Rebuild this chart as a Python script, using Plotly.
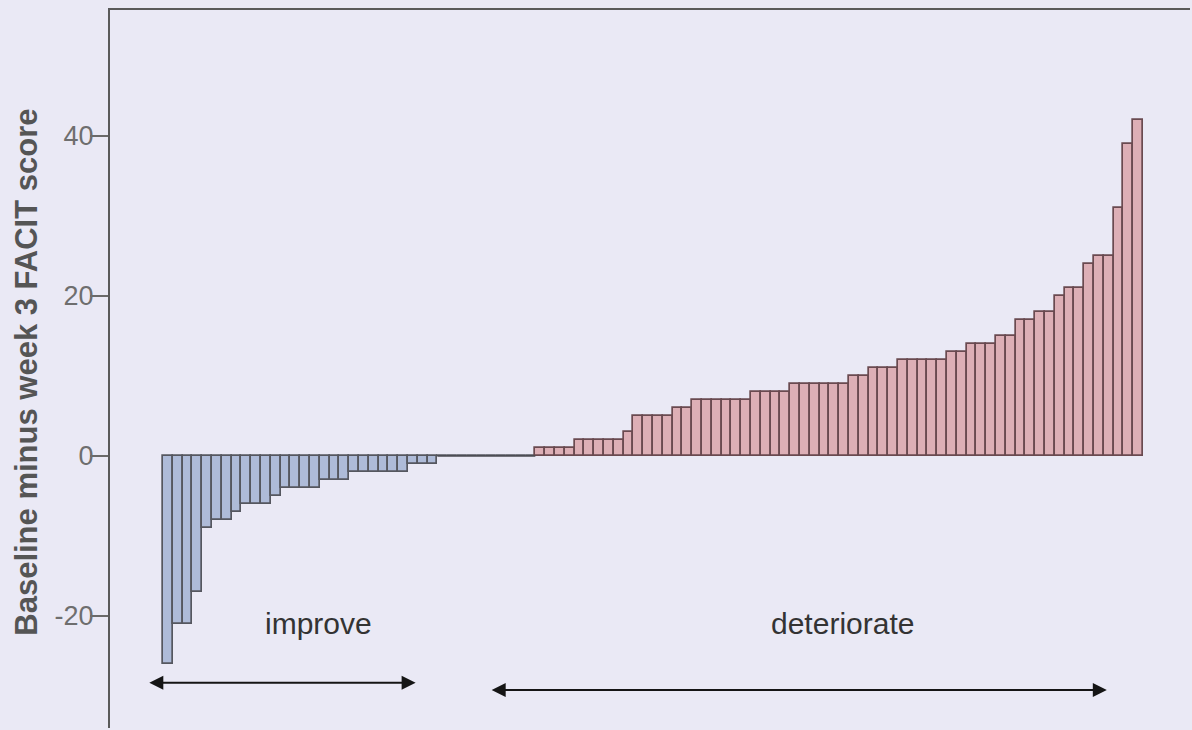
import plotly.graph_objects as go

# Baseline minus week 3 FACIT score, one bar per patient, sorted
improve_vals = [-26, -21, -21, -17, -9, -8, -8, -7, -6, -6, -6, -5, -4, -4, -4, -4,
                -3, -3, -3, -2, -2, -2, -2, -2, -2, -1, -1, -1]
no_change_vals = [0, 0, 0, 0, 0, 0, 0, 0, 0, 0]
deteriorate_vals = [1, 1, 1, 1, 2, 2, 2, 2, 2, 3, 5, 5, 5, 5, 6, 6, 7, 7, 7, 7, 7, 7,
                    8, 8, 8, 8, 9, 9, 9, 9, 9, 9, 10, 10, 11, 11, 11, 12, 12, 12, 12, 12,
                    13, 13, 14, 14, 14, 15, 15, 17, 17, 18, 18, 20, 21, 21, 24, 25, 25,
                    31, 39, 42]
y_ticks = [-20, 0, 20, 40]

n_imp = len(improve_vals)
n_zero = len(no_change_vals)
imp_x = list(range(1, n_imp + 1))
zero_x = list(range(n_imp + 1, n_imp + n_zero + 1))
det_x = list(range(n_imp + n_zero + 1, n_imp + n_zero + len(deteriorate_vals) + 1))

BG = "#EAE9F5"
FONT = "Arial, Liberation Sans, sans-serif"

fig = go.Figure()
fig.add_trace(
    go.Bar(
        x=imp_x,
        y=improve_vals,
        marker={"color": "#AEBBD8", "line": {"color": "#55575F", "width": 1.7}},
        showlegend=False,
    )
)
fig.add_trace(
    go.Bar(
        x=zero_x,
        y=no_change_vals,
        marker={"color": "#AEBBD8", "line": {"color": "#55575F", "width": 1.7}},
        showlegend=False,
    )
)
fig.add_trace(
    go.Bar(
        x=det_x,
        y=deteriorate_vals,
        marker={"color": "#DDAFB6", "line": {"color": "#6A4A50", "width": 1.7}},
        showlegend=False,
    )
)

# zero-height bars show as a flat line
fig.add_shape(
    type="line",
    xref="x",
    yref="y",
    x0=zero_x[0] - 0.5,
    x1=zero_x[-1] + 0.5,
    y0=0,
    y1=0,
    line={"color": "#4A4A50", "width": 1.7},
)

# double-headed range arrows
for x0, x1, y in [(0.035, 0.283, 0.063), (0.352, 0.923, 0.053)]:
    fig.add_annotation(
        xref="x domain",
        yref="y domain",
        axref="x domain",
        ayref="y domain",
        x=x1,
        y=y,
        ax=x0,
        ay=y,
        text="",
        showarrow=True,
        arrowhead=2,
        startarrowhead=2,
        arrowside="end+start",
        arrowsize=1.4,
        arrowwidth=2,
        arrowcolor="#151515",
    )

fig.add_annotation(
    xref="paper", yref="paper", x=0.1935, y=0.146, text="improve",
    xanchor="center", yanchor="middle",
    showarrow=False, font={"family": FONT, "size": 30, "color": "#333333"},
)
fig.add_annotation(
    xref="paper", yref="paper", x=0.678, y=0.146, text="deteriorate",
    xanchor="center", yanchor="middle",
    showarrow=False, font={"family": FONT, "size": 30, "color": "#333333"},
)
fig.add_annotation(
    xref="paper", yref="paper", x=-0.077, y=0.496, text="<b>Baseline minus week 3 FACIT score</b>",
    textangle=-90, showarrow=False, xanchor="center", yanchor="middle",
    font={"family": FONT, "size": 31, "color": "#555555"},
)

fig.update_layout(
    width=1192,
    height=730,
    margin={"l": 110, "r": 2, "t": 10, "b": 2},
    paper_bgcolor=BG,
    plot_bgcolor=BG,
    bargap=0,
    barmode="overlay",
    font={"family": FONT},
    xaxis={
        "range": [-4.9, 105.3],
        "showgrid": False,
        "zeroline": False,
        "showticklabels": False,
        "ticks": "",
        "showline": True,
        "side": "top",
        "linecolor": "#5A5A5A",
        "linewidth": 2,
    },
    yaxis={
        "range": [-34.0, 55.75],
        "tickvals": y_ticks,
        "ticktext": [str(v) for v in y_ticks],
        "showgrid": False,
        "zeroline": False,
        "ticks": "outside",
        "ticklen": 18,
        "tickwidth": 2,
        "tickcolor": "#6A6A6A",
        "ticklabelstandoff": -9,
        "tickfont": {"family": FONT, "size": 27, "color": "#6E6E6E"},
        "showline": True,
        "linecolor": "#5A5A5A",
        "linewidth": 2,
    },
)

fig.write_html(
    "out.html",
    config={"displayModeBar": False},
    post_script="document.body.style.margin='0';",
)
